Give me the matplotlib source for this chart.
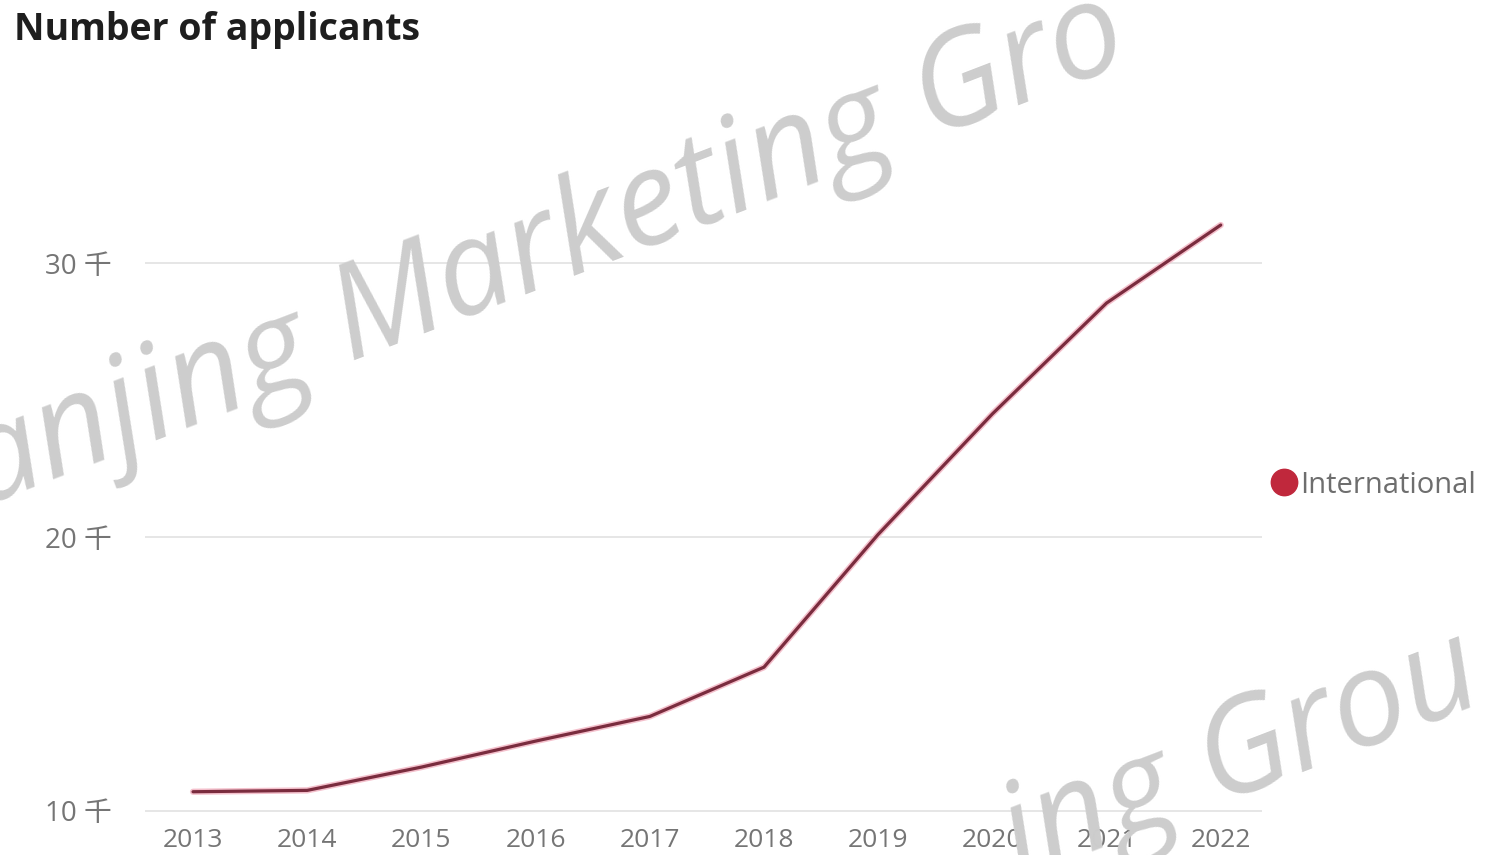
import matplotlib
matplotlib.use('Agg')
import matplotlib.pyplot as plt
import matplotlib.patheffects as pe
from matplotlib.lines import Line2D

# data (thousands of applicants)
years = [2013, 2014, 2015, 2016, 2017, 2018, 2019, 2020, 2021, 2022]
international = [10.7, 10.75, 11.6, 12.55, 13.45, 15.25, 20.1, 24.5, 28.55, 31.4]
yticks = [10, 20, 30]
ytick_labels = ['10 千', '20 千', '30 千']

plt.rcParams['font.family'] = ['Open Sans', 'Noto Sans CJK SC', 'DejaVu Sans']

fig = plt.figure(figsize=(14.91, 8.55), dpi=100)
ax = fig.add_axes([0.0973, 0.041, 0.749, 0.748])

# the series line, dark maroon with a faint pink halo
ax.plot(years, international, color='#7a2c3e', lw=2.3, solid_capstyle='round',
        path_effects=[pe.withStroke(linewidth=4.5, foreground='#f4c0cc')], zorder=3)

ax.set_xlim(2012.58, 2022.36)
ax.set_ylim(9.67, 33.03)
ax.set_xticks(years)
ax.set_xticklabels([str(y) for y in years])
ax.set_yticks(yticks)
ax.set_yticklabels(ytick_labels)
ax.tick_params(axis='both', length=0, labelsize=19, labelcolor='#757575')
ax.tick_params(axis='y', pad=24, labelsize=20)
ax.tick_params(axis='x', pad=6)
ax.grid(axis='y', color='#e4e4e4', lw=1.3)
ax.grid(axis='x', visible=False)
for s in ax.spines.values():
    s.set_visible(False)

# title
fig.text(14 / 1491, 1 - 30 / 855, 'Number of applicants', fontsize=27, fontweight='bold',
         color='#1e1e1e', ha='left', va='center')

# legend on the right
handle = Line2D([], [], marker='o', ls='', color='#c0283c', markersize=19)
fig.legend([handle], ['International'], loc='center left',
           bbox_to_anchor=(1272 / 1491, 1 - 485 / 855), frameon=False,
           handlelength=0.8, handletextpad=0.15, borderpad=0, borderaxespad=0,
           prop={'size': 21}, labelcolor='#6e6e6e')

# watermark, only the parts that show in the picture
wm_kw = dict(fontsize=95, style='italic', color='#cdcdcd', rotation=21,
             rotation_mode='anchor', va='baseline', zorder=10)
fig.text(319 / 1491, 1 - 375 / 855, 'anjing', ha='right', **wm_kw)
fig.text(350 / 1491, 1 - 362 / 855, 'Marketing Gro', ha='left', **wm_kw)
fig.text(1184 / 1491, 1 - 815 / 855, 'ing', ha='right', **wm_kw)
fig.text(1215 / 1491, 1 - 802 / 855, 'Grou', ha='left', **wm_kw)

fig.savefig('out.png', dpi=100)
